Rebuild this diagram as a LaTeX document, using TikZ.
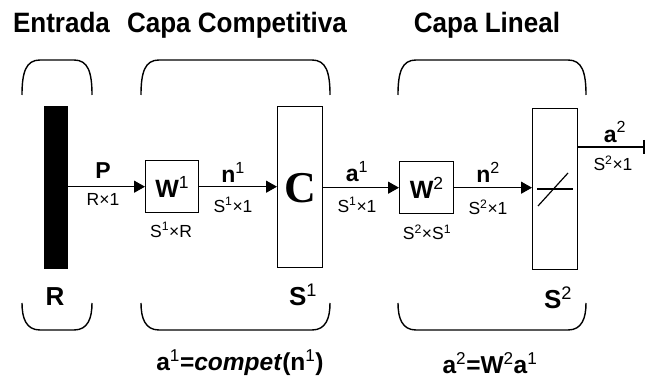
\documentclass[tikz,border=0pt]{standalone}
\usepackage{fontspec}
\setmainfont{Liberation Sans}
\newfontfamily\titlefont[FakeStretch=0.93]{Liberation Sans}
\newfontfamily\serifbf{Liberation Serif}
\usetikzlibrary{arrows.meta}
\newcommand\sps[1]{\textsuperscript{\normalfont #1}}
\begin{document}
\begin{tikzpicture}[x=1pt,y=-1pt, line width=1.4pt,
  box/.style={draw, line width=1.4pt, inner sep=0pt, anchor=north west},
  arr/.style={-{Triangle[length=11pt,width=12pt]}, line width=1.4pt},
  lbl/.style={font=\bfseries\fontsize{23}{23}\selectfont, inner sep=0pt},
  dim/.style={font=\fontsize{17.5}{17.5}\selectfont, inner sep=0pt},
  ttl/.style={font=\titlefont\bfseries\fontsize{28}{28}\selectfont, inner sep=0pt, anchor=base},
  big/.style={font=\bfseries\fontsize{26}{26}\selectfont, inner sep=0pt},
  frm/.style={font=\bfseries\fontsize{24.5}{24.5}\selectfont, inner sep=0pt},
  brk/.style={line width=1.4pt}]
\useasboundingbox (0,0) rectangle (646,379);
% titles
\node[ttl] (t1) at (61.5,33) {Entrada};
\node[ttl] (t2) at (237,33) {Capa Competitiva};
\node[ttl] (t3) at (487,33) {Capa Lineal};
% brackets
\foreach \a/\b/\r in {22/92/18, 141/330/18, 398/586/18}{
  \draw[brk] (\a,95) .. controls (\a,72) and (\a+4,60) .. (\a+\r,60) -- (\b-\r,60)
    .. controls (\b-4,60) and (\b,72) .. (\b,95);
  \draw[brk] (\a,303) .. controls (\a,318) and (\a+4,330) .. (\a+\r,330) -- (\b-\r,330)
    .. controls (\b-4,330) and (\b,318) .. (\b,303);
}
% blocks
\node[box, fill=black, minimum width=23pt, minimum height=162pt] (bar) at (44,106) {};
\node[box, minimum width=53pt, minimum height=52pt] (w1) at (145,160) {};
\node[font=\bfseries\fontsize{25}{25}\selectfont, inner sep=0pt] (w1t) at (w1.center) {W\sps{1}};
\node[box, minimum width=45pt, minimum height=161pt] (cbox) at (277,106) {};
\node[font=\serifbf\bfseries\fontsize{44}{44}\selectfont, inner sep=0pt] (ct) at (300,188) {C};
\node[box, minimum width=54pt, minimum height=52pt] (w2) at (399,161) {};
\node[font=\bfseries\fontsize{25}{25}\selectfont, inner sep=0pt] (w2t) at (w2.center) {W\sps{2}};
\node[box, minimum width=45pt, minimum height=161pt] (lin) at (532,108) {};
\draw[line width=1.2pt] (537,189) -- (573,189);
\draw[line width=1.2pt] (538,206) -- (568,173);
% connectors
\draw[arr] (bar.east |- w1.west) -- (w1.west);
\draw[arr] (w1.east) -- (w1.east -| cbox.west);
\draw[arr] (cbox.east |- w2.west) -- (w2.west);
\draw[arr] (w2.east) -- (w2.east -| lin.west);
\coordinate (out) at (645,147);
\draw[line width=1.4pt, -{Bar[width=14pt,line width=2.5pt]}] (lin.east |- out) -- (out);
% labels
\node[lbl] (p) at (103,171) {P};
\node[dim] (pd) at (103,199) {R×1};
\node[dim] (w1d) at (171,230) {S\sps{1}×R};
\node[lbl] (n1) at (233,172) {n\sps{1}};
\node[dim] (n1d) at (233,205) {S\sps{1}×1};
\node[lbl] (a1) at (357,172) {a\sps{1}};
\node[dim] (a1d) at (357,205) {S\sps{1}×1};
\node[dim] (w2d) at (427,232) {S\sps{2}×S\sps{1}};
\node[lbl] (n2) at (488,172) {n\sps{2}};
\node[dim] (n2d) at (488,207) {S\sps{2}×1};
\node[lbl] (a2) at (615,132) {a\sps{2}};
\node[dim] (a2d) at (613,163) {S\sps{2}×1};
\node[big] (rl) at (55,297) {R};
\node[big] (s1) at (303,295) {S\sps{1}};
\node[big] (s2) at (558,298) {S\sps{2}};
\node[frm] (f1) at (240,363) {a\sps{1}=\textit{compet}(n\sps{1})};
\node[frm] (f2) at (490,363) {a\sps{2}=W\sps{2}a\sps{1}};
\end{tikzpicture}
\end{document}
